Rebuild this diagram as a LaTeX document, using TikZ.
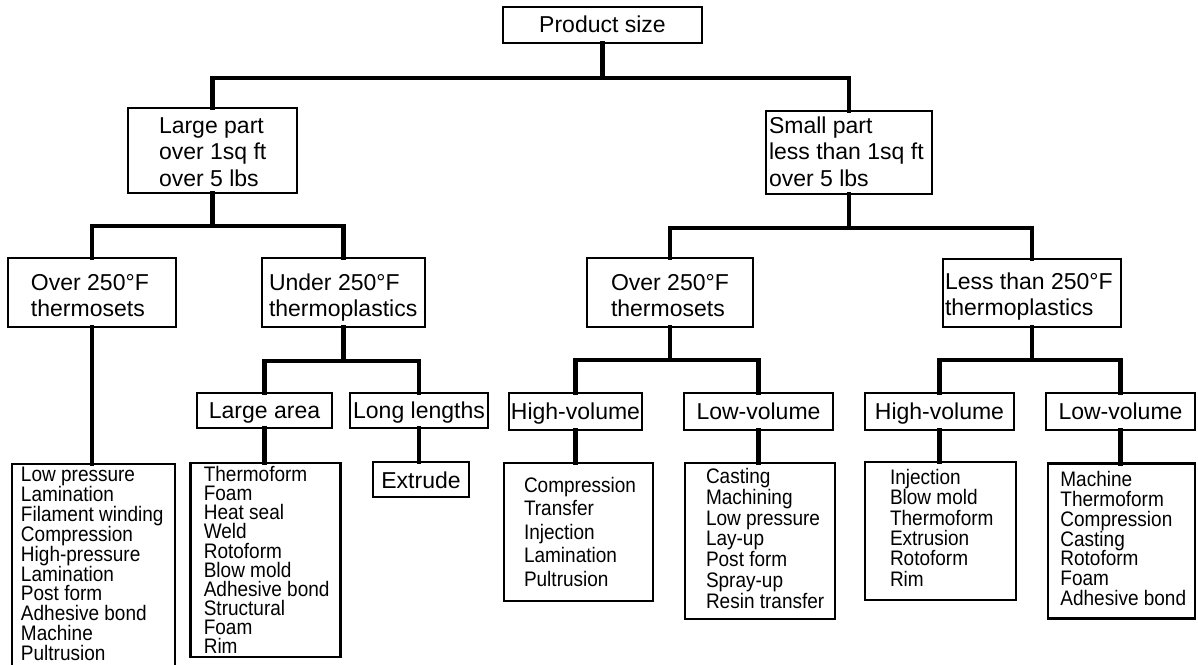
\documentclass[tikz,border=0pt]{standalone}
\usepackage{fontspec}
\setmainfont{Liberation Sans}
\newfontfamily\listfont{Liberation Sans}[FakeStretch=0.905]
% left-aligned block: #1 width, #2 height, #3 left pad, #4 first baseline from top, #5 font size, #6 baselineskip, #7 text
\newcommand{\lblk}[7]{\parbox[c][#2][t]{#1}{\fontsize{#5}{#6}\selectfont\raggedright\leftskip=#3\relax\rule{0pt}{#4}#7\par}}
% centred block: #1 width, #2 height, #3 first baseline from top, #4 font size, #5 text
\newcommand{\cblk}[5]{\parbox[c][#2][t]{#1}{\fontsize{#4}{#4}\selectfont\centering\rule{0pt}{#3}#5\par}}
\tikzset{
  bx/.style={draw=black, line width=2.8bp, inner sep=0pt, outer sep=0pt},
  conn/.style={draw=black, line width=4.5bp, line cap=rect, line join=miter}
}
\begin{document}
\begin{tikzpicture}[x=1bp,y=-1bp]
\useasboundingbox (0,0) rectangle (1198,665);
\fill[white] (0,0) rectangle (1198,665);

% level 0
\node[bx] (prod) at (602.5,25) {\cblk{199bp}{36bp}{26bp}{23bp}{Product size}};
% level 1
\node[bx] (large) at (212.5,150.5) {\lblk{169bp}{85bp}{31bp}{25.3bp}{23bp}{26.7bp}{Large part\\over 1sq ft\\over 5 lbs}};
\node[bx] (small) at (849,152.5) {\lblk{166bp}{83bp}{3bp}{22.3bp}{23bp}{26.7bp}{Small part\\less than 1sq ft\\over 5 lbs}};
% level 2
\node[bx] (o250L) at (92,292.5) {\lblk{168bp}{69bp}{23bp}{32bp}{23bp}{26.7bp}{Over 250°F\\thermosets}};
\node[bx] (u250) at (343.5,292.5) {\lblk{163bp}{69bp}{7bp}{32bp}{23bp}{26.7bp}{Under 250°F\\thermoplastics}};
\node[bx] (o250R) at (670,292.5) {\lblk{166bp}{69bp}{24bp}{32bp}{23bp}{26.7bp}{Over 250°F\\thermosets}};
\node[bx] (less) at (1032,293) {\lblk{178bp}{68bp}{2bp}{30.5bp}{23bp}{25.5bp}{Less than 250°F\\thermoplastics}};
% level 3
\node[bx] (larea) at (264.5,410.5) {\cblk{135bp}{35bp}{25.3bp}{23bp}{Large area}};
\node[bx] (llen) at (419,410.5) {\cblk{138bp}{35bp}{25.3bp}{23bp}{Long lengths}};
\node[bx] (hvL) at (575.5,411.5) {\cblk{133bp}{37bp}{26bp}{23bp}{High-volume}};
\node[bx] (lvL) at (758.5,411.5) {\cblk{149bp}{37bp}{26bp}{23bp}{Low-volume}};
\node[bx] (hvR) at (939.5,411.5) {\cblk{149bp}{37bp}{26bp}{23bp}{High-volume}};
\node[bx] (lvR) at (1120.5,411.5) {\cblk{149bp}{37bp}{26bp}{23bp}{Low-volume}};
% lists
\node[bx] (listA) at (93.5,572) {\lblk{163bp}{216bp}{9bp}{17.5bp}{21bp}{19.9bp}{\listfont Low pressure\\Lamination\\Filament winding\\Compression\\High-pressure\\Lamination\\Post form\\Adhesive bond\\Machine\\Pultrusion}};
\node[bx] (listB) at (265.5,560) {\lblk{150bp}{194bp}{13.3bp}{18.5bp}{21bp}{19.15bp}{\listfont Thermoform\\Foam\\Heat seal\\Weld\\Rotoform\\Blow mold\\Adhesive bond\\Structural\\Foam\\Rim}};
\node[bx] (extr) at (421,479.5) {\cblk{96bp}{35bp}{26bp}{23bp}{Extrude}};
\node[bx] (listD) at (578.5,532) {\lblk{149bp}{138bp}{20bp}{29bp}{21bp}{23.6bp}{\listfont Compression\\Transfer\\Injection\\Lamination\\Pultrusion}};
\node[bx] (listE) at (760,541) {\lblk{150bp}{156bp}{21bp}{20.5bp}{21bp}{20.8bp}{\listfont Casting\\Machining\\Low pressure\\Lay-up\\Post form\\Spray-up\\Resin transfer}};
\node[bx] (listF) at (940.5,531) {\lblk{151bp}{138bp}{25bp}{22.6bp}{21bp}{20.3bp}{\listfont Injection\\Blow mold\\Thermoform\\Extrusion\\Rotoform\\Rim}};
\node[bx] (listG) at (1121.5,541) {\lblk{147bp}{155bp}{12.4bp}{23.4bp}{21bp}{19.7bp}{\listfont Machine\\Thermoform\\Compression\\Casting\\Rotoform\\Foam\\Adhesive bond}};

% junction coordinates
\coordinate (b0) at (602.5,78);
\coordinate (b1) at (212.5,226);
\coordinate (b2) at (849,228);
\coordinate (b3) at (343.5,361);
\coordinate (b4) at (670,360);
\coordinate (b5) at (1032,360);

% connectors
\draw[conn] (prod.south) -- (b0);
\draw[conn] (large.north) |- (b0) -| (small.north);
\draw[conn] (large.south) -- (b1);
\draw[conn] (o250L.north) |- (b1) -| (u250.north);
\draw[conn] (small.south) -- (b2);
\draw[conn] (o250R.north) |- (b2) -| (less.north);
\draw[conn] (u250.south) -- (b3);
\draw[conn] (larea.north) |- (b3) -| (llen.north);
\draw[conn] (o250R.south) -- (b4);
\draw[conn] (hvL.north) |- (b4) -| (lvL.north);
\draw[conn] (less.south) -- (b5);
\draw[conn] (hvR.north) |- (b5) -| (lvR.north);
\draw[conn] (o250L.south) -- (o250L.south |- listA.north);
\draw[conn] (larea.south) -- (larea.south |- listB.north);
\draw[conn] (llen.south) -- (llen.south |- extr.north);
\draw[conn] (hvL.south) -- (hvL.south |- listD.north);
\draw[conn] (lvL.south) -- (lvL.south |- listE.north);
\draw[conn] (hvR.south) -- (hvR.south |- listF.north);
\draw[conn] (lvR.south) -- (lvR.south |- listG.north);
\end{tikzpicture}
\end{document}
